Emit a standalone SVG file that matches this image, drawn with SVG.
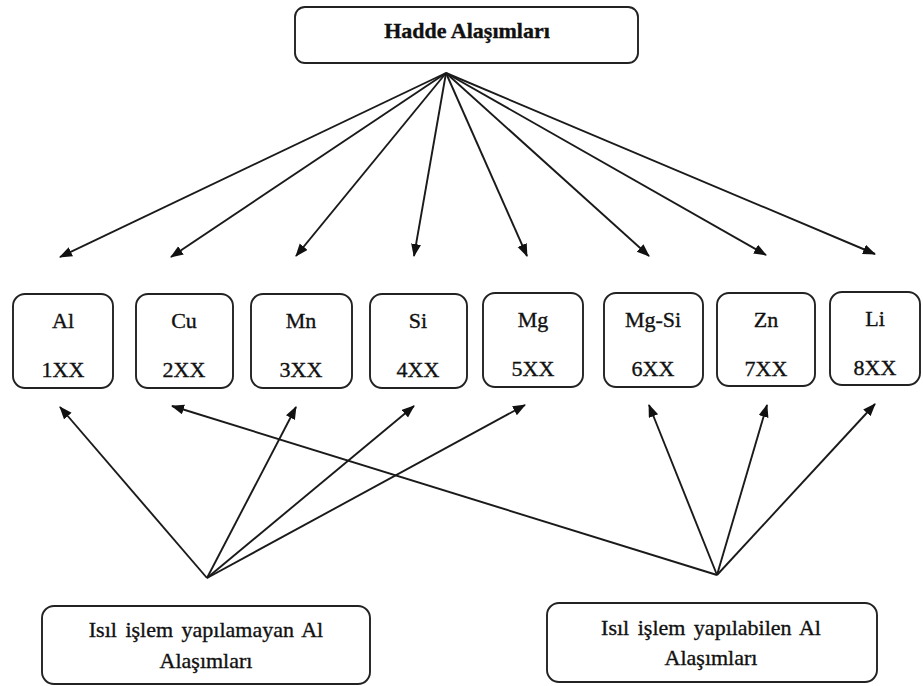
<svg xmlns="http://www.w3.org/2000/svg" width="923" height="686" viewBox="0 0 923 686">
<style>
.box{fill:#fff;stroke:#222;stroke-width:1.9}
.t{font-family:"Liberation Serif","Times New Roman",serif;font-size:22px;fill:#111;stroke:#111;stroke-width:0.35;text-anchor:middle}
.tb{font-weight:bold}
.c{stroke:#1a1a1a;stroke-width:1.9;fill:none;marker-end:url(#ah)}
</style>
<defs>
<marker id="ah" markerUnits="userSpaceOnUse" markerWidth="13" markerHeight="11" refX="12" refY="5" orient="auto">
<path d="M0,0 L13,5 L0,10 z" fill="#111"/>
</marker>
</defs>
<rect width="923" height="686" fill="#fff"/>
<g id="connectors">
<line class="c" x1="446" y1="73" x2="60" y2="257"/>
<line class="c" x1="446" y1="73" x2="171" y2="257"/>
<line class="c" x1="446" y1="73" x2="296" y2="256"/>
<line class="c" x1="446" y1="73" x2="414" y2="256"/>
<line class="c" x1="446" y1="73" x2="527" y2="256"/>
<line class="c" x1="446" y1="73" x2="649" y2="256"/>
<line class="c" x1="446" y1="73" x2="766" y2="255"/>
<line class="c" x1="446" y1="73" x2="875" y2="254"/>
<line class="c" x1="207" y1="578" x2="60" y2="407"/>
<line class="c" x1="207" y1="578" x2="296" y2="407"/>
<line class="c" x1="207" y1="578" x2="414" y2="406"/>
<line class="c" x1="207" y1="578" x2="525" y2="405"/>
<line class="c" x1="717" y1="575" x2="172" y2="406"/>
<line class="c" x1="717" y1="575" x2="649" y2="405"/>
<line class="c" x1="717" y1="575" x2="767" y2="405"/>
<line class="c" x1="717" y1="575" x2="875" y2="404"/>
</g>
<g id="hadde">
<rect class="box" x="295" y="7" width="343" height="56" rx="10"/>
<text class="t tb" x="467" y="38">Hadde Alaşımları</text>
</g>
<g id="al">
<rect class="box" x="13" y="294" width="100" height="94" rx="12"/>
<text class="t" x="63" y="328">Al</text>
<text class="t" x="63" y="377">1XX</text>
</g>
<g id="cu">
<rect class="box" x="136" y="294" width="97" height="94" rx="12"/>
<text class="t" x="184" y="328">Cu</text>
<text class="t" x="184" y="377">2XX</text>
</g>
<g id="mn">
<rect class="box" x="251" y="294" width="101" height="94" rx="12"/>
<text class="t" x="301" y="328">Mn</text>
<text class="t" x="301" y="377">3XX</text>
</g>
<g id="si">
<rect class="box" x="370" y="294" width="97" height="94" rx="12"/>
<text class="t" x="418" y="328">Si</text>
<text class="t" x="418" y="377">4XX</text>
</g>
<g id="mg">
<rect class="box" x="483" y="293" width="100" height="94" rx="12"/>
<text class="t" x="533" y="327">Mg</text>
<text class="t" x="533" y="376">5XX</text>
</g>
<g id="mgsi">
<rect class="box" x="604" y="293" width="99" height="94" rx="12"/>
<text class="t" x="653" y="327">Mg-Si</text>
<text class="t" x="653" y="376">6XX</text>
</g>
<g id="zn">
<rect class="box" x="717" y="293" width="98" height="93" rx="12"/>
<text class="t" x="766" y="327">Zn</text>
<text class="t" x="766" y="376">7XX</text>
</g>
<g id="li">
<rect class="box" x="830" y="292" width="90" height="93" rx="12"/>
<text class="t" x="875" y="326">Li</text>
<text class="t" x="875" y="375">8XX</text>
</g>
<g id="isilsiz">
<rect class="box" x="42" y="606" width="328" height="78" rx="12"/>
<text class="t" x="206" y="637" word-spacing="3">Isıl işlem yapılamayan Al</text>
<text class="t" x="206" y="668">Alaşımları</text>
</g>
<g id="isilli">
<rect class="box" x="547" y="603" width="330" height="79" rx="12"/>
<text class="t" x="711" y="635" word-spacing="3">Isıl işlem yapılabilen Al</text>
<text class="t" x="711" y="665">Alaşımları</text>
</g>
</svg>
